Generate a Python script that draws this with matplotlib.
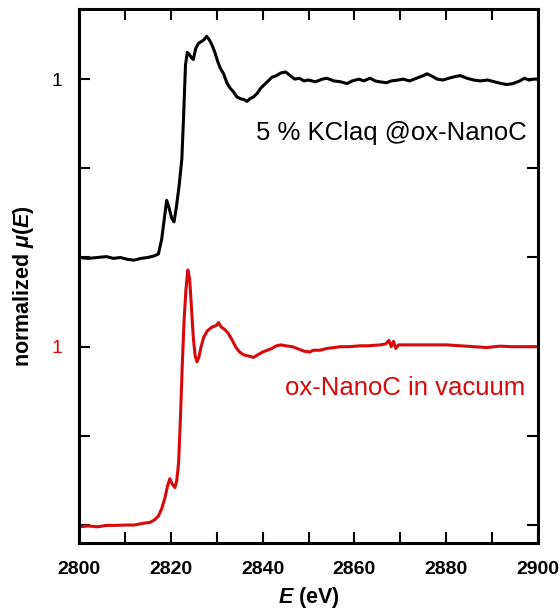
import matplotlib
matplotlib.use("Agg")
import matplotlib.pyplot as plt


OUTPUT = "out.png"

# black spectrum: 5 % KClaq @ox-NanoC (normalized)
energy_black = [
    2800.0, 2802.0, 2804.0, 2806.0, 2807.5, 2809.0, 2810.5, 2812.0, 2813.5, 2815.0,
    2816.5, 2817.3, 2818.0, 2818.6, 2819.1, 2819.6, 2820.2, 2820.7, 2821.2, 2821.8,
    2822.4, 2822.8, 2823.2, 2823.6, 2824.0, 2824.5, 2824.9, 2825.4, 2826.0, 2826.6,
    2827.2, 2827.8, 2828.4, 2829.0, 2829.6, 2830.2, 2830.8, 2831.5, 2832.2, 2832.9,
    2833.6, 2834.4, 2835.2, 2836.0, 2836.6, 2837.2, 2838.0, 2838.8, 2839.6, 2840.4,
    2841.2, 2842.0, 2843.0, 2844.0, 2845.0, 2846.0, 2847.0, 2848.0, 2849.0, 2850.0,
    2851.5, 2853.0, 2854.0, 2855.5, 2857.0, 2858.4, 2859.5, 2861.0, 2862.0, 2863.4,
    2864.5, 2865.5, 2867.0, 2868.0, 2869.5, 2870.6, 2872.0, 2873.5, 2875.0, 2875.8,
    2877.0, 2878.0, 2879.3, 2880.5, 2882.0, 2883.0, 2884.5, 2886.0, 2887.4, 2889.0,
    2890.5, 2892.0, 2893.2, 2894.5, 2896.0, 2897.0, 2898.0, 2899.0, 2900.0,
]
mu_black = [
    0.000, -0.005, 0.000, 0.005, -0.005, 0.000, -0.010, -0.015, -0.005, 0.000,
    0.010, 0.020, 0.100, 0.220, 0.320, 0.280, 0.220, 0.200, 0.280, 0.400,
    0.550, 0.800, 1.080, 1.150, 1.140, 1.120, 1.110, 1.170, 1.200, 1.210,
    1.220, 1.240, 1.220, 1.190, 1.150, 1.100, 1.060, 1.030, 0.980, 0.950,
    0.930, 0.900, 0.890, 0.885, 0.875, 0.890, 0.900, 0.920, 0.950, 0.970,
    0.990, 1.010, 1.020, 1.035, 1.040, 1.020, 1.000, 1.005, 0.990, 0.995,
    0.985, 1.000, 1.005, 0.990, 0.985, 0.975, 0.990, 1.000, 0.990, 1.005,
    0.990, 0.985, 0.980, 0.990, 0.995, 1.000, 0.990, 1.005, 1.020, 1.030,
    1.015, 1.000, 0.995, 1.005, 1.015, 1.020, 1.005, 0.995, 0.990, 0.995,
    0.985, 0.975, 0.970, 0.975, 0.990, 1.005, 0.995, 1.000, 1.000,
]

# red spectrum: ox-NanoC in vacuum (normalized)
energy_red = [
    2800.0, 2802.0, 2804.0, 2806.0, 2808.0, 2810.0, 2812.0, 2814.0, 2815.5, 2816.5,
    2817.3, 2818.0, 2818.7, 2819.3, 2819.8, 2820.3, 2820.9, 2821.3, 2821.7, 2822.1,
    2822.5, 2822.9, 2823.3, 2823.7, 2824.1, 2824.5, 2824.9, 2825.3, 2825.7, 2826.1,
    2826.6, 2827.2, 2828.0, 2829.0, 2830.0, 2830.4, 2831.0, 2831.8, 2832.5, 2833.3,
    2834.2, 2835.0, 2835.8, 2836.5, 2837.3, 2838.0, 2839.0, 2840.0, 2841.0, 2842.0,
    2843.0, 2844.0, 2845.0, 2846.5, 2848.0, 2849.0, 2850.3, 2851.0, 2852.5, 2854.0,
    2855.5, 2857.0, 2859.0, 2861.2, 2863.0, 2865.6, 2866.8, 2867.5, 2868.0, 2868.5,
    2869.0, 2869.6, 2871.4, 2874.0, 2877.0, 2880.1, 2883.0, 2886.0, 2888.8, 2890.5,
    2891.7, 2894.0, 2897.0, 2900.0,
]
mu_red = [
    -0.010, -0.005, -0.010, -0.002, -0.002, 0.000, 0.000, 0.010, 0.015, 0.030,
    0.050, 0.090, 0.150, 0.220, 0.260, 0.230, 0.210, 0.250, 0.350, 0.600,
    0.900, 1.150, 1.320, 1.430, 1.380, 1.220, 1.050, 0.950, 0.915, 0.940,
    1.000, 1.055, 1.090, 1.110, 1.120, 1.135, 1.110, 1.095, 1.075, 1.040,
    0.995, 0.970, 0.955, 0.950, 0.945, 0.940, 0.955, 0.970, 0.980, 0.990,
    1.005, 1.010, 1.005, 1.000, 0.985, 0.975, 0.970, 0.980, 0.980, 0.990,
    0.995, 1.000, 1.000, 1.005, 1.005, 1.010, 1.015, 1.035, 1.000, 1.030,
    0.990, 1.010, 1.010, 1.010, 1.010, 1.010, 1.005, 1.000, 0.995, 1.000,
    1.003, 1.000, 1.000, 1.000,
]

x_ticks = [2800, 2820, 2840, 2860, 2880, 2900]
black_offset = 1.5

RED = "#d60a0a"

plt.rcParams["font.family"] = ["Liberation Sans", "DejaVu Sans"]
plt.rcParams["mathtext.fontset"] = "custom"
plt.rcParams["mathtext.rm"] = "Liberation Sans:bold"
plt.rcParams["mathtext.it"] = "Liberation Sans:italic:bold"


def main():
    fig = plt.figure(figsize=(5.6, 6.15), dpi=100)
    ax = fig.add_axes([0.141, 0.117, 0.820, 0.868])

    ax.plot(energy_black, [v + black_offset for v in mu_black], color="black", lw=2.2)
    ax.plot(energy_red, mu_red, color=RED, lw=2.2)

    ax.set_xlim(2800, 2900)
    ax.set_ylim(-0.101, 2.892)

    ax.set_xticks(x_ticks)
    ax.set_xticks(range(2800, 2901, 10), minor=True)
    ax.set_xticklabels([str(t) for t in x_ticks], fontsize=14, fontweight="bold")
    ax.set_yticks([0.0, 0.5, 1.0, 1.5, 2.0, 2.5])
    ax.set_yticklabels(["", "", "1", "", "", "1"], fontsize=14)
    ylabels = ax.get_yticklabels()
    ylabels[2].set_color(RED)
    ylabels[5].set_color("black")

    ax.tick_params(axis="both", which="both", direction="in", top=True, right=True,
                   width=1.5, length=8)
    ax.tick_params(axis="x", which="major", pad=13)
    ax.tick_params(axis="y", which="major", pad=12)
    for spine in ax.spines.values():
        spine.set_linewidth(2.2)

    ax.set_xlabel("$E$ (eV)", fontsize=15.5, fontweight="bold", labelpad=5)
    ax.set_ylabel(r"normalized $\mu(E)$", fontsize=15.5, fontweight="bold")
    ax.yaxis.set_label_coords(-0.094, 0.481)

    ax.text(2897.6, 2.197, "5 % KClaq @ox-NanoC", fontsize=18.5, color="black",
            ha="right", va="center")
    ax.text(2897.2, 0.768, "ox-NanoC in vacuum", fontsize=18.5, color=RED,
            ha="right", va="center")

    fig.savefig(OUTPUT, dpi=100)
    plt.close(fig)


if __name__ == "__main__":
    main()
